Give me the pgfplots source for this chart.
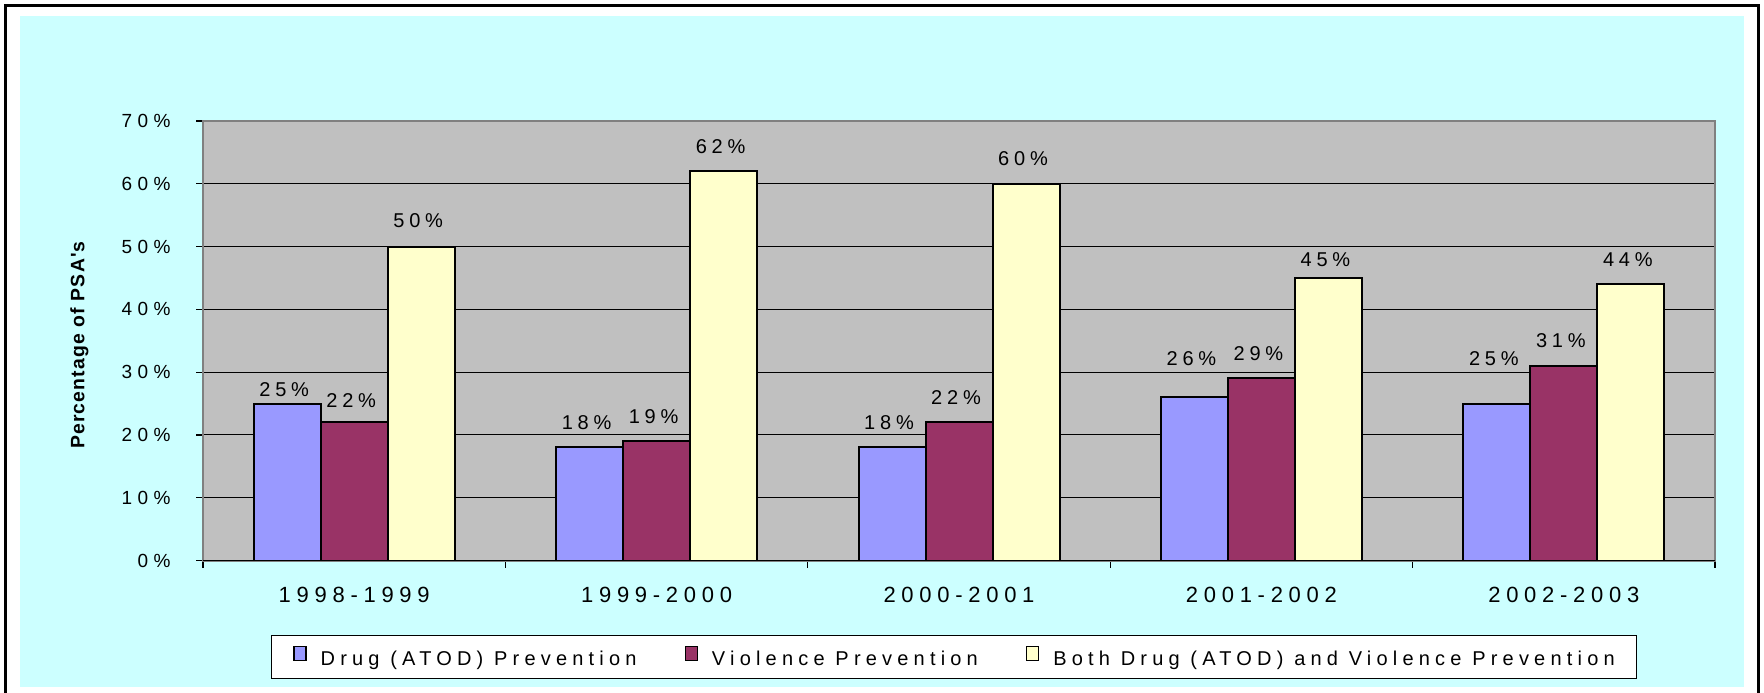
\documentclass[border=0pt]{standalone}
\usepackage{pgfplots}
\pgfplotsset{compat=1.18}
\usepackage{fontspec}
\setmainfont{Liberation Sans}
\newfontfamily\spT{Liberation Sans}[LetterSpace=29]
\newfontfamily\spX{Liberation Sans}[LetterSpace=26]
\newfontfamily\spD{Liberation Sans}[LetterSpace=24]
\newfontfamily\spL{Liberation Sans}[LetterSpace=26]
\newfontfamily\ylfont{Liberation Sans}[LetterSpace=6]
\definecolor{cyanbg}{HTML}{CCFFFF}
\definecolor{plotgray}{HTML}{C0C0C0}
\definecolor{framegray}{HTML}{808080}
\definecolor{cblue}{HTML}{9999FF}
\definecolor{cmaroon}{HTML}{993366}
\definecolor{cyellow}{HTML}{FFFFCC}
\pgfplotstableread{
x y off
0 25 3.5
1 18 9
2 18 9
3 26 16
4 25 19
}\drugtab
\pgfplotstableread{
x y off
0 22 7.5
1 19 9
2 22 9
3 29 9
4 31 9
}\violtab
\pgfplotstableread{
x y off
0 50 9.5
1 62 9
2 60 9
3 45 5.5
4 44 9
}\bothtab
\begin{document}
\begin{tikzpicture}
\useasboundingbox (0,0) rectangle (882pt,346pt);
\fill[white] (0,0) rectangle (882pt,346pt);
\fill[cyanbg] (10pt,2.5pt) rectangle (872pt,338pt);
\draw[black,line width=1.4pt] (2.65pt,-5pt) rectangle (879.15pt,343.15pt);
\begin{axis}[
  at={(101.5pt,65.75pt)}, anchor=south west,
  width=756pt, height=219.75pt, scale only axis,
  xmin=-0.5, xmax=4.5, ymin=0, ymax=70,
  ybar=0pt, bar width=33.5pt,
  axis background/.style={fill=plotgray},
  axis line style={draw=framegray, line width=1pt},
  ymajorgrids, grid style={draw=black, line width=0.5pt},
  tick align=outside, major tick length=3.5pt,
  tick style={draw=black, line width=0.6pt},
  xtick pos=bottom, ytick pos=left,
  ytick={0,10,...,70},
  yticklabels={0\%,10\%,20\%,30\%,40\%,50\%,60\%,70\%},
  yticklabel style={font=\spT\fontsize{9.5}{11}\selectfont, anchor=east, inner sep=0pt, xshift=-12.5pt},
  xtick={-0.5,0.5,1.5,2.5,3.5,4.5},
  xticklabel={\hbox{}},
  extra x ticks={0,1,2,3,4},
  extra x tick labels={1998-1999,1999-2000,2000-2001,2001-2002,2002-2003},
  extra x tick style={major tick length=0pt, xticklabel style={font=\spX\fontsize{11}{13}\selectfont, anchor=base, inner sep=0pt, yshift=-20.9pt}},
  /pgf/number format/assume math mode=true,
  visualization depends on={\thisrow{off} \as \labeloff},
  nodes near coords={\pgfmathprintnumber{\pgfplotspointmeta}\%},
  every node near coord/.append style={font=\spD\fontsize{10}{12}\selectfont, anchor=base, inner sep=0pt, yshift=\labeloff pt, xshift=-1.5pt, black},
  legend style={at={(0.4967,-0.2196)}, anchor=center, draw=black, fill=white, line width=0.6pt,
    font=\spL\fontsize{10}{11.5}\selectfont, legend columns=3,
    nodes={inner sep=0pt},
    /tikz/every even column/.append style={column sep=24pt},
    /tikz/every odd column/.append style={column sep=7pt},
    inner xsep=11pt, inner ysep=5.3pt},
  legend image code/.code={\draw[#1, line width=0.7pt, draw=black] (0pt,-0.5pt) rectangle (6pt,6.5pt);},
]
\addplot[fill=cblue, draw=black, line width=1pt] table[x=x, y=y] {\drugtab};
\addplot[fill=cmaroon, draw=black, line width=1pt] table[x=x, y=y] {\violtab};
\addplot[fill=cyellow, draw=black, line width=1pt] table[x=x, y=y] {\bothtab};
\legend{Drug (ATOD) Prevention, Violence Prevention, Both Drug (ATOD) and Violence Prevention}
\draw[black, line width=1pt] (axis cs:-0.5,0) -- (axis cs:4.5,0);
\end{axis}
\node[rotate=90, font=\ylfont\bfseries\fontsize{9.7}{11}\selectfont, inner sep=0pt] at (39.75pt,173.5pt) {Percentage of PSA's};
\end{tikzpicture}
\end{document}
